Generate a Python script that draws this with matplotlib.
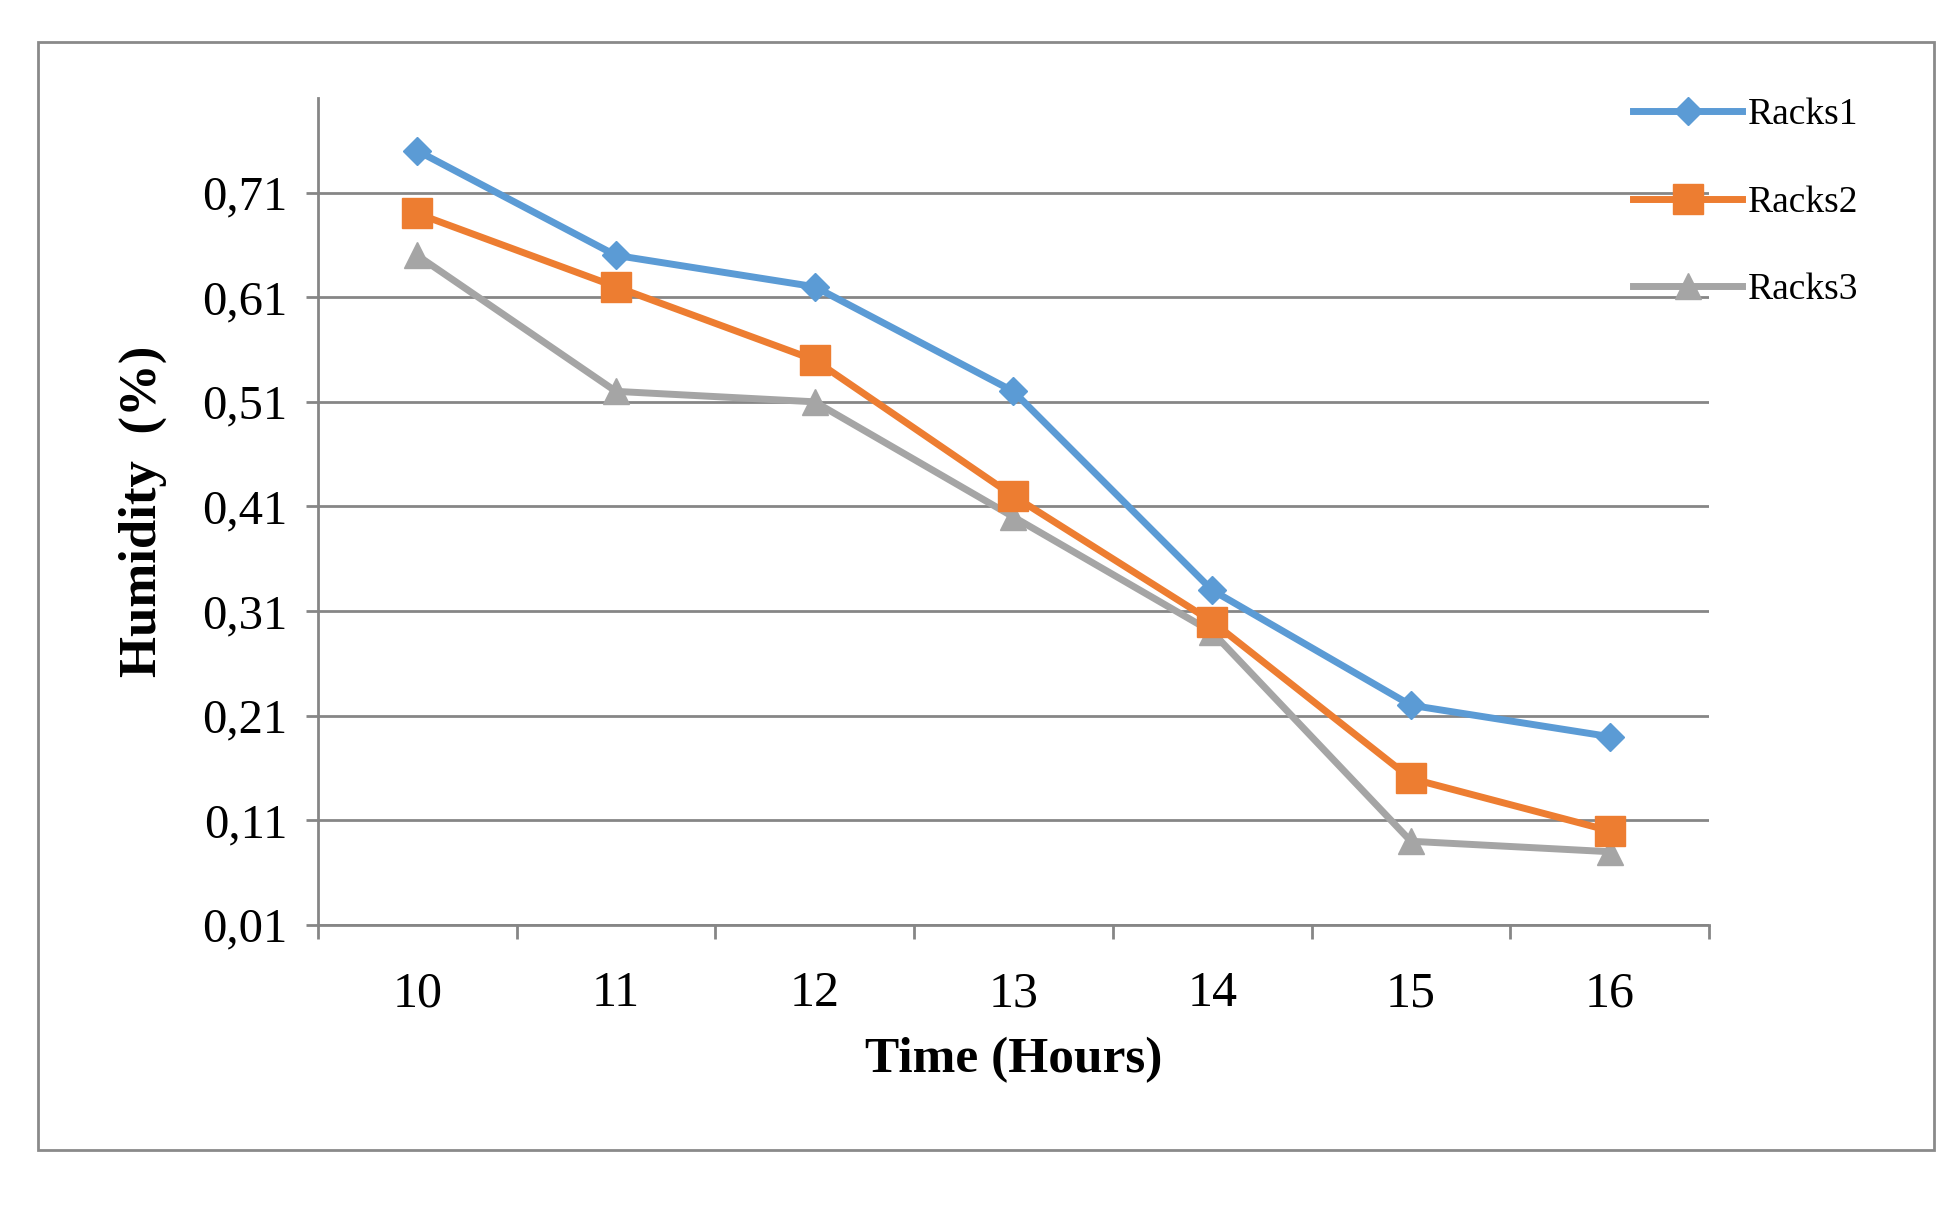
"""
Humidity vs time for three racks
"""
import matplotlib
matplotlib.use("Agg")
import matplotlib.pyplot as plt
from matplotlib.patches import Rectangle
from matplotlib.ticker import FixedLocator, FuncFormatter

# data
hours = ["10", "11", "12", "13", "14", "15", "16"]
racks1 = [0.75, 0.65, 0.62, 0.52, 0.33, 0.22, 0.19]
racks2 = [0.69, 0.62, 0.55, 0.42, 0.30, 0.15, 0.10]
racks3 = [0.65, 0.52, 0.51, 0.40, 0.29, 0.09, 0.08]
y_ticks = [0.01, 0.11, 0.21, 0.31, 0.41, 0.51, 0.61, 0.71]

plt.rcParams['font.family'] = ['Liberation Serif', 'DejaVu Serif']

fig = plt.figure(figsize=(19.59, 12.30), dpi=100)
ax = fig.add_axes([0.1622, 0.248, 0.7102, 0.672])

# outer frame round the whole chart
fig.patches.append(Rectangle((0.0192, 0.065), 0.968, 0.901, transform=fig.transFigure,
                             fill=False, edgecolor='#8a8a8a', linewidth=2))

x = list(range(len(hours)))
ax.plot(x, racks1, color='#5B9BD5', linewidth=5, marker='D', markersize=14, label='Racks1', zorder=5)
ax.plot(x, racks2, color='#ED7D31', linewidth=5, marker='s', markersize=21, label='Racks2', zorder=4)
ax.plot(x, racks3, color='#A5A5A5', linewidth=5, marker='^', markersize=19, label='Racks3', zorder=3)

ax.set_xlim(-0.5, len(hours) - 0.5)
ax.set_ylim(0.01, 0.80)

# gridlines and axis styling like Excel
ax.set_yticks(y_ticks)
ax.yaxis.set_major_formatter(FuncFormatter(lambda v, p: f"{v:.2f}".replace('.', ',')))
ax.grid(axis='y', color='#868686', linewidth=2)
ax.set_axisbelow(True)
ax.set_xticks(x)
ax.set_xticklabels(hours)
ax.xaxis.set_minor_locator(FixedLocator([i - 0.5 for i in range(len(hours) + 1)]))

for s in ['top', 'right']:
    ax.spines[s].set_visible(False)
ax.spines['left'].set_color('#868686')
ax.spines['left'].set_linewidth(2)
ax.spines['bottom'].set_color('#868686')
ax.spines['bottom'].set_linewidth(2)

ax.tick_params(axis='y', length=9, width=2, color='#868686', pad=13, labelsize=35)
ax.tick_params(axis='x', which='major', length=0, pad=33, labelsize=36)
ax.tick_params(axis='x', which='minor', length=10, width=2, color='#868686')

ax.set_ylabel("Humidity  (%)", fontsize=38, fontweight='bold')
ax.yaxis.set_label_coords(-0.108, 0.5)
ax.set_xlabel("Time (Hours)", fontsize=37, fontweight='bold')
ax.xaxis.set_label_coords(0.5, -0.135)

ax.legend(loc='upper left', bbox_to_anchor=(0.826, 0.933), bbox_transform=fig.transFigure,
          frameon=False, fontsize=27, handlelength=2.9, labelspacing=1.42,
          handletextpad=0.15, borderaxespad=0)

plt.savefig("out.png", dpi=100)
plt.close()
